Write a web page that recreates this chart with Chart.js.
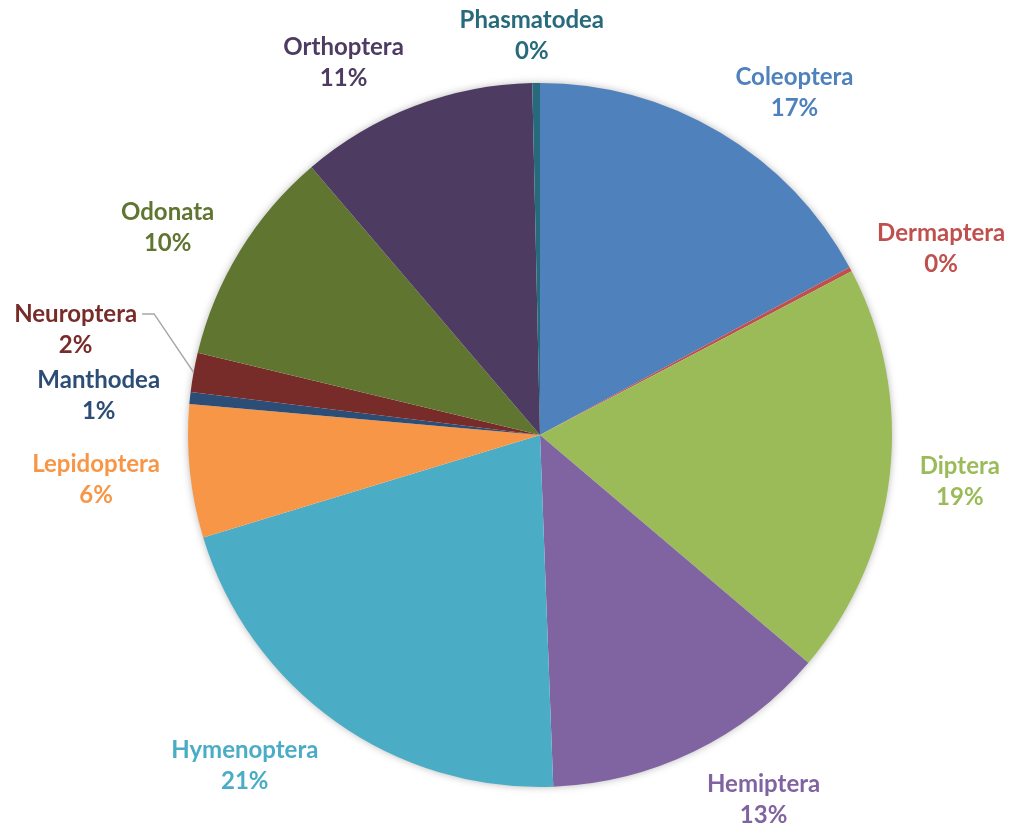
<!DOCTYPE html>
<html>
<head>
<meta charset="utf-8">
<script src="https://cdn.jsdelivr.net/npm/chart.js@4"></script>
<style>
  html, body { margin: 0; padding: 0; background: #fff; }
  #wrap { width: 1013px; height: 831px; }
</style>
</head>
<body>
<div id="wrap"><canvas id="pieChart" width="1013" height="831"></canvas></div>
<script>
// Data
const orders = ['Coleoptera', 'Dermaptera', 'Diptera', 'Hemiptera', 'Hymenoptera', 'Lepidoptera',
                'Manthodea', 'Neuroptera', 'Odonata', 'Orthoptera', 'Phasmatodea'];
const shares = [17.1, 0.2, 18.9, 13.2, 20.9, 6.1, 0.55, 1.8, 10.0, 10.9, 0.35];
const colors = ['#4F81BD', '#C0504D', '#9BBB59', '#8064A2', '#4BACC6', '#F79646',
                '#2C4D75', '#772C2A', '#5F7530', '#4D3B62', '#276A7C'];

// Labels moved away from their default spot (drawn with a leader line)
const labelNudge = { Neuroptera: [-27, -37] };

const FONT = 'bold 24px Lato, "Open Sans", sans-serif';
const LINE_H = 31;

const shadowPlugin = {
    id: 'pieShadow',
    beforeDatasetsDraw(chart) {
        const arc = chart.getDatasetMeta(0).data[0];
        if (!arc) return;
        const c = chart.ctx;
        c.save();
        c.shadowColor = 'rgba(0,0,0,0.35)';
        c.shadowBlur = 9;
        c.fillStyle = '#fff';
        c.beginPath();
        c.arc(arc.x, arc.y, arc.outerRadius - 1, 0, Math.PI * 2);
        c.fill();
        c.restore();
    }
};

const labelPlugin = {
    id: 'outsideLabels',
    afterDatasetsDraw(chart) {
        const c = chart.ctx;
        const data = chart.data.datasets[0].data;
        const total = data.reduce((a, b) => a + b, 0);
        c.save();
        c.font = FONT;
        c.textAlign = 'center';
        c.textBaseline = 'middle';
        chart.getDatasetMeta(0).data.forEach((arc, i) => {
            const name = chart.data.labels[i];
            const pct = Math.round(data[i] / total * 100) + '%';
            const mid = (arc.startAngle + arc.endAngle) / 2;
            const R = arc.outerRadius;
            const gap = 30;
            const ax = arc.x + (R + gap) * Math.cos(mid);
            const ay = arc.y + (R + gap) * Math.sin(mid);
            const w = Math.max(c.measureText(name).width, c.measureText(pct).width);
            const side = Math.max(-1, Math.min(1, Math.cos(mid) * 5));
            let cx = ax + side * w / 2;
            let cy = ay + Math.sin(mid) * 20 + 3;
            const nudge = labelNudge[name];
            if (nudge) {
                cx += nudge[0];
                cy += nudge[1];
                // leader line from label to slice edge
                const lx = cx + w / 2 + 5;
                const ly = cy - LINE_H / 2;
                c.strokeStyle = '#A6A6A6';
                c.lineWidth = 1.5;
                c.beginPath();
                c.moveTo(lx, ly);
                c.lineTo(lx + 12, ly);
                c.lineTo(arc.x + R * Math.cos(mid), arc.y + R * Math.sin(mid));
                c.stroke();
            }
            c.fillStyle = colors[i];
            c.fillText(name, cx, cy - LINE_H / 2);
            c.fillText(pct, cx, cy + LINE_H / 2);
        });
        c.restore();
    }
};

new Chart(document.getElementById('pieChart'), {
    type: 'pie',
    data: {
        labels: orders,
        datasets: [{
            data: shares,
            backgroundColor: colors,
            borderWidth: 0
        }]
    },
    options: {
        responsive: false,
        animation: false,
        layout: { padding: { top: 83, bottom: 44, left: 188, right: 121 } },
        plugins: {
            legend: { display: false },
            tooltip: { enabled: false }
        }
    },
    plugins: [shadowPlugin, labelPlugin]
});
</script>
</body>
</html>
